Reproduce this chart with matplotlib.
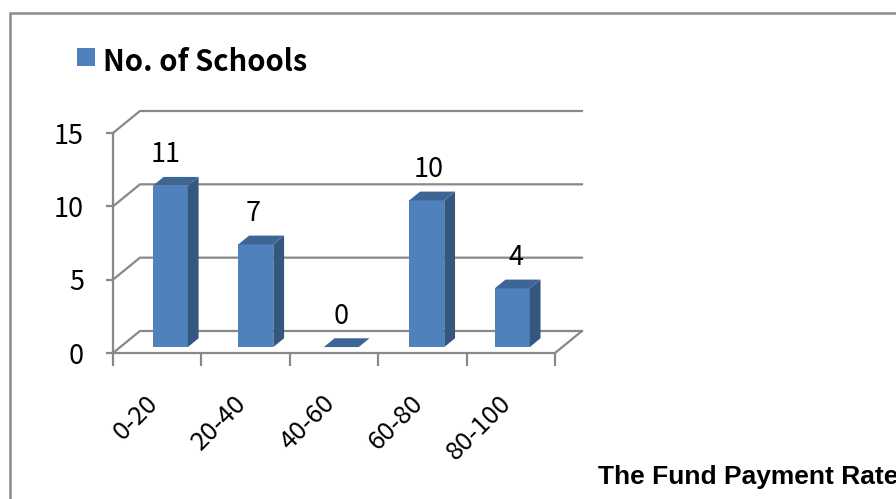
import matplotlib.pyplot as plt
from matplotlib.patches import Polygon, Rectangle
from matplotlib.transforms import ScaledTranslation

# data
categories = ["0-20", "20-40", "40-60", "60-80", "80-100"]
schools = [11, 7, 0, 10, 4]
series_name = "No. of Schools"
x_title = "The Fund Payment Rate"
y_ticks = [0, 5, 10, 15]

# 3d look (axis units)
DX, DY = 0.305, 1.5      # offset of back wall
D0 = 0.27                # depth of bar front face
BD = 0.4                 # bar depth
BW = 0.396               # bar width
front_col = "#4f81bd"
side_col = "#34577f"
top_col = "#3d6696"
grid_col = "#888888"
num_font = ["Noto Sans CJK KR", "DejaVu Sans"]
NUM_SIZE = 19.5

fig = plt.figure(figsize=(8.96, 4.99), dpi=100)
ax = fig.add_axes([113 / 896, 1 - 353 / 499, 442 / 896, 220 / 499])
ax.set_xlim(-0.5, 4.5)
ax.set_ylim(0, 15)
for s in ["top", "right"]:
    ax.spines[s].set_visible(False)
for s in ["left", "bottom"]:
    ax.spines[s].set_color(grid_col)
    ax.spines[s].set_linewidth(1.6)

# back wall gridlines + left side diagonals
for v in y_ticks:
    ax.plot([-0.5, -0.5 + DX, 4.5 + DX], [v, v + DY, v + DY],
            color=grid_col, lw=1.6, clip_on=False, zorder=1)
ax.plot([4.5, 4.5 + DX], [0, DY], color=grid_col, lw=1.6, clip_on=False, zorder=1)

# bars
idx = list(range(len(categories)))
xs = [2 + (i - 2) * 0.967 + D0 * DX for i in idx]
base = D0 * DY
ax.bar(xs, schools, width=BW, bottom=base, color=front_col, zorder=3, clip_on=False)
for x, v in zip(xs, schools):
    xl, xr = x - BW / 2, x + BW / 2
    top = base + v
    ax.add_patch(Polygon([(xr, base), (xr, top), (xr + BD * DX, top + BD * DY),
                          (xr + BD * DX, base + BD * DY)],
                         closed=True, fc=side_col, ec="none", zorder=3, clip_on=False))
    ax.add_patch(Polygon([(xl, top), (xr, top), (xr + BD * DX, top + BD * DY),
                          (xl + BD * DX, top + BD * DY)],
                         closed=True, fc=top_col, ec="none", zorder=3, clip_on=False))

# data labels
for i, v in zip(idx, schools):
    ax.text(i * 0.99 + 0.1, base + v + 2.1, str(v), ha="center", va="center",
            fontsize=NUM_SIZE, family=num_font, zorder=4)

# ticks
ax.set_yticks(y_ticks)
ax.set_yticklabels([str(t) for t in y_ticks], fontsize=NUM_SIZE, family=num_font)
ax.tick_params(axis="y", length=5, width=1.6, color=grid_col, pad=16)
ax.set_xticks(idx)
ax.set_xticklabels(categories, rotation=45, ha="right", fontsize=NUM_SIZE - 1, family=num_font)
ax.tick_params(axis="x", which="major", length=0, pad=27)
shift = ScaledTranslation(6 / 100, 0, fig.dpi_scale_trans)
for lab in ax.get_xticklabels():
    lab.set_transform(lab.get_transform() + shift)
ax.set_xticks([-0.5, 0.5, 1.5, 2.5, 3.5, 4.5], minor=True)
ax.tick_params(axis="x", which="minor", length=9, width=1.6, color=grid_col)

# legend
fig.add_artist(Rectangle((77 / 896, 1 - 66 / 499), 18 / 896, 18 / 499,
                         transform=fig.transFigure, fc=front_col, ec="none"))
fig.text(103 / 896, 1 - 62 / 499, series_name, fontsize=21, fontweight="bold",
         family=num_font, va="center", ha="left")

# axis title
fig.text(598 / 896, 1 - 477 / 499, x_title, fontsize=19, fontweight="bold",
         family="Liberation Sans", va="center", ha="left")

# chart border
fig.add_artist(Rectangle((10 / 896, -0.1), 1.2, 1.1 - 13 / 499,
                         transform=fig.transFigure, fill=False, ec="#8c8c8c", lw=1.8))

fig.savefig("out.png", dpi=100)
